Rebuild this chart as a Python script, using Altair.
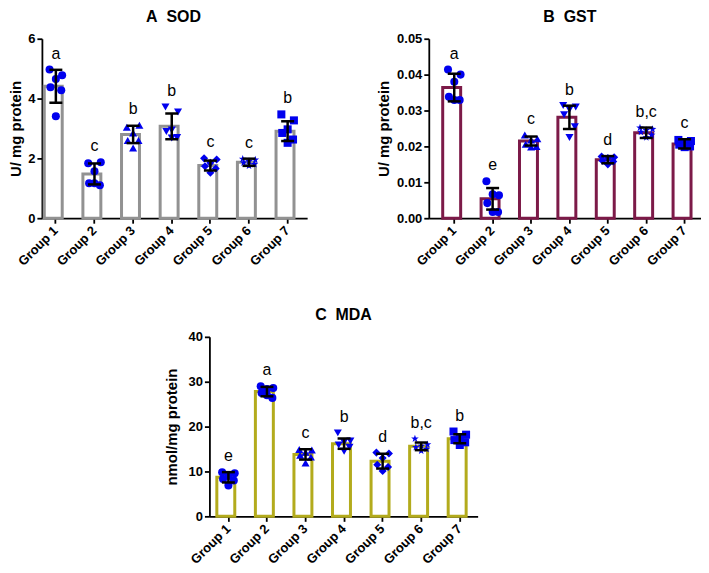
import altair as alt
import pandas as pd

# ---------------- data ----------------
groups = ["Group 1", "Group 2", "Group 3", "Group 4", "Group 5", "Group 6", "Group 7"]

sod_points = [
    [4.97, 4.78, 4.65, 4.38, 4.28, 3.41],
    [1.84, 1.87, 1.57, 1.17, 1.10, 1.17],
    [3.04, 3.11, 2.85, 2.60, 2.60, 2.35],
    [3.72, 3.55, 2.95, 2.90, 2.70, 2.68],
    [2.00, 1.96, 1.85, 1.74, 1.66, 1.52],
    [1.98, 1.95, 1.90, 1.85, 1.80, 1.75],
    [3.47, 3.27, 2.97, 2.85, 2.63, 2.52],
]
sod_mean = [4.41, 1.48, 2.80, 3.07, 1.76, 1.87, 2.91]
sod_sd = [0.55, 0.35, 0.29, 0.43, 0.165, 0.12, 0.33]
sod_letters = ["a", "c", "b", "b", "c", "c", "b"]

gst_points = [
    [0.0414, 0.0400, 0.0380, 0.0338, 0.0329, 0.0329],
    [0.0103, 0.0064, 0.0067, 0.0042, 0.0017, 0.0017],
    [0.0232, 0.0221, 0.0218, 0.0206, 0.0200, 0.0198],
    [0.0314, 0.0310, 0.0303, 0.0288, 0.0255, 0.0225],
    [0.0172, 0.0170, 0.0168, 0.0160, 0.0158, 0.0150],
    [0.0252, 0.0248, 0.0245, 0.0240, 0.0232, 0.0225],
    [0.0218, 0.0215, 0.0212, 0.0205, 0.0200, 0.0198],
]
gst_mean = [0.0364, 0.0054, 0.0215, 0.0281, 0.0163, 0.0238, 0.0207]
gst_sd = [0.00385, 0.0030, 0.00125, 0.00325, 0.0010, 0.00145, 0.0013]
gst_letters = ["a", "e", "c", "b", "d", "b,c", "c"]

mda_points = [
    [9.8, 9.6, 9.0, 8.3, 8.0, 6.9],
    [29.0, 28.6, 28.4, 27.5, 26.4, 27.0],
    [14.9, 14.8, 14.3, 13.6, 13.2, 11.9],
    [18.6, 16.8, 16.5, 15.9, 15.4, 14.5],
    [14.2, 14.0, 13.0, 11.5, 11.0, 10.1],
    [17.3, 16.0, 15.7, 15.4, 15.0, 14.6],
    [18.9, 18.2, 17.6, 17.0, 16.5, 15.9],
]
mda_mean = [8.7, 27.8, 13.8, 16.2, 12.3, 15.6, 17.3]
mda_sd = [1.15, 1.05, 1.15, 1.15, 1.65, 0.85, 1.0]
mda_letters = ["e", "a", "c", "b", "d", "b,c", "b"]

# ---------------- style ----------------
FONT = "Liberation Sans"
BLUE = "#0000ee"
JITTER = [-0.7, 0.7, 0.0, -0.6, 0.6, 0.0]
STAR = "M0,-1L0.24,-0.33L0.95,-0.31L0.38,0.12L0.59,0.81L0,0.4L-0.59,0.81L-0.38,0.12L-0.95,-0.31L-0.24,-0.33Z"
shapes_std = ["circle", "circle", "triangle-up", "triangle-down", "diamond", STAR, "square"]
shapes_mda = ["circle", "square", "triangle-up", "triangle-down", "diamond", STAR, "square"]
PAD_INNER = 0.40


def panel(title, title_dx, ytitle, title_pad, points, means, sds, letters, shapes, color,
          ymax, yvals, yfmt, width, pad_outer, align):
    rows = []
    for g, pts in zip(groups, points):
        for i, v in enumerate(pts):
            rows.append({"group": g, "value": v, "jit": JITTER[i]})
    pts_df = pd.DataFrame(rows)
    summ = pd.DataFrame({
        "group": groups,
        "mean": means,
        "lo": [m - s for m, s in zip(means, sds)],
        "hi": [m + s for m, s in zip(means, sds)],
        "top": [max(max(p), m + s) for p, m, s in zip(points, means, sds)],
        "letter": letters,
    })
    xscale = alt.Scale(domain=groups, paddingInner=PAD_INNER, paddingOuter=pad_outer, align=align)
    xaxis = alt.Axis(labelAngle=-45, labelAlign="right", labelBaseline="middle",
                     labelFont=FONT, labelFontSize=13, labelFontWeight="bold",
                     labelColor="black", labelPadding=5,
                     domainColor="black", domainWidth=1.8, tickColor="black",
                     tickWidth=1.8, tickSize=5, grid=False)
    x = alt.X("group:N", scale=xscale, sort=groups, axis=xaxis, title=None)
    yscale = alt.Scale(domain=[0, ymax], nice=False, zero=True)
    yaxis = alt.Axis(values=yvals, format=yfmt, labelFont=FONT, labelFontSize=13,
                     labelFontWeight="bold", labelColor="black", labelPadding=2,
                     domainColor="black", domainWidth=1.8, tickColor="black",
                     tickWidth=1.8, tickSize=5, grid=False,
                     titleFont=FONT, titleFontSize=15, titleFontWeight="bold",
                     titleColor="black", titlePadding=title_pad)

    def Y(field):
        return alt.Y(field, scale=yscale, axis=yaxis, title=ytitle)

    bw = width / (7 - PAD_INNER + 2 * pad_outer) * (1 - PAD_INNER)
    base = alt.Chart(summ)
    bars = base.mark_bar(fill="white", stroke=color, strokeWidth=3).encode(x=x, y=Y("mean:Q"))
    dots = alt.Chart(pts_df).mark_point(filled=True, color=BLUE, size=65, opacity=1).encode(
        x=x,
        xOffset=alt.XOffset("jit:Q", scale=alt.Scale(domain=[-1, 1], range=[bw / 2 - 9, bw / 2 + 9])),
        y=Y("value:Q"),
        shape=alt.Shape("group:N", scale=alt.Scale(domain=groups, range=shapes), legend=None),
    )
    rule = base.mark_rule(color="black", strokeWidth=2.5).encode(x=x, y=Y("lo:Q"), y2="hi:Q")
    cap_lo = base.mark_tick(color="black", thickness=2.5, size=13, opacity=1).encode(x=x, y=Y("lo:Q"))
    cap_hi = base.mark_tick(color="black", thickness=2.5, size=13, opacity=1).encode(x=x, y=Y("hi:Q"))
    txt = base.mark_text(font=FONT, fontSize=16, dy=-11, baseline="alphabetic", color="black").encode(
        x=x, y=Y("top:Q"), text="letter:N")
    return alt.layer(bars, dots, rule, cap_lo, cap_hi, txt).properties(
        width=width, height=180,
        title=alt.TitleParams(title, font=FONT, fontSize=16, fontWeight="bold",
                              color="black", anchor="middle", dx=title_dx, offset=8),
    )


A = panel("A\u00a0\u00a0SOD", -1, "U/ mg protein", 4, sod_points, sod_mean, sod_sd, sod_letters,
          shapes_std, "#929292", 6, [0, 2, 4, 6], "d", 266, 0.133, 0.23)
B = panel("B\u00a0\u00a0GST", 5, "U/ mg protein", 5, gst_points, gst_mean, gst_sd, gst_letters,
          shapes_std, "#7c1a48", 0.05, [0, 0.01, 0.02, 0.03, 0.04, 0.05], ".2f", 273, 0.245, 0.74)
C = panel("C\u00a0\u00a0MDA", 0, "nmol/mg protein", 9, mda_points, mda_mean, mda_sd, mda_letters,
          shapes_mda, "#b3ab1c", 40, [0, 10, 20, 30, 40], "d", 269, 0.178, 0.54)

spacer = alt.Chart(pd.DataFrame({"v": [0]})).mark_point(opacity=0).encode(
    x=alt.value(0), y=alt.value(0)).properties(width=1, height=180)

top_row = alt.hconcat(A, B, spacing=122, bounds="flush")
bottom_row = alt.hconcat(spacer, C, spacing=167, bounds="flush")

chart = alt.vconcat(top_row, bottom_row, spacing=299, bounds="flush").properties(
    padding={"left": 0, "top": 0, "right": 0, "bottom": 0},
    background="white",
).configure_view(strokeOpacity=0)

chart.save("out.html", embed_options={"renderer": "svg", "actions": False})
